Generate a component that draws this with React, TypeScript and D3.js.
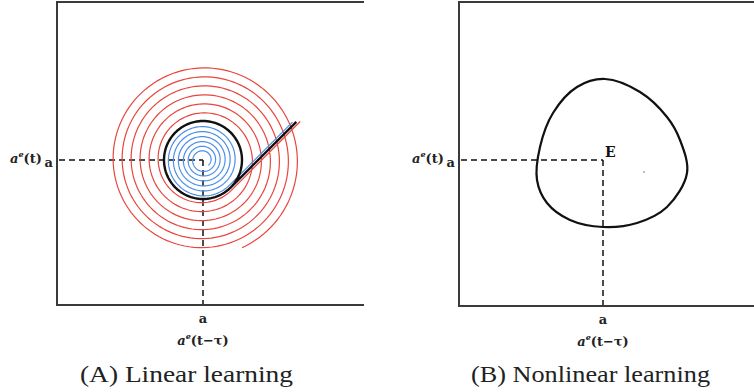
import React from 'react';
import * as d3 from 'd3';

const W = 754;
const H = 392;

// phase-space data, equilibrium "a" at (0, 0); unit = limit cycle scale
const limitCycleR = 0.39;
const tangentDeg = -45; // where the lead-in line meets the cycle
const blackLead = 0.93;

// Linear learning: unstable (red) spiral outward, stable (blue) spiral inward
const redTurnRadii = [0.415, 0.505, 0.595, 0.685, 0.775, 0.865, 0.955];
const redLastTurn = 6.06;
const redLead = 0.96;

const blueTurnRadii = [0.365, 0.315, 0.265, 0.215, 0.165, 0.12, 0.075];
const blueLastTurn = 6;
const blueLead = 0.9;

// Nonlinear learning: closed orbit around E
const orbitX = [0.02, 0.37, 0.64, 0.77, 0.84, 0.64, 0.34, 0, -0.33, -0.56, -0.66, -0.63, -0.5, -0.26];
const orbitY = [0.81, 0.68, 0.43, 0.2, -0.13, -0.47, -0.63, -0.67, -0.6, -0.43, -0.2, 0.13, 0.47, 0.73];
const strayDot = [0.41, -0.12];

const panels = [
  { key: 'A', left: 57, right: 364, top: 2, bottom: 305, xDomain: [-1.46, 1.61], yDomain: [-1.45, 1.58], caption: '(A) Linear learning', capX: 80 },
  { key: 'B', left: 459, right: 754, top: 2, bottom: 306, xDomain: [-1.44, 1.51], yDomain: [-1.46, 1.58], caption: '(B) Nonlinear learning', capX: 471 },
];

const RED = '#e8453c';
const BLUE = '#4b8fe6';
const serif = '"DejaVu Serif", serif';

type P = [number, number];

function spiral(radii: number[], lastTurn: number, lead: number): P[] {
  const rOf = d3.scaleLinear().domain(radii.map((_, i) => i)).range(radii).clamp(false);
  const a0 = (tangentDeg * Math.PI) / 180;
  const r0 = radii[0];
  const start: P = [r0 * Math.cos(a0), r0 * Math.sin(a0)];
  const leadPt: P = [start[0] - lead * Math.sin(a0), start[1] + lead * Math.cos(a0)];
  const pts: P[] = [leadPt];
  d3.range(0, lastTurn + 1e-9, 1 / 120).forEach(t => {
    const r = rOf(t);
    const a = a0 - 2 * Math.PI * t;
    pts.push([r * Math.cos(a), r * Math.sin(a)]);
  });
  return pts;
}

const AxisLabel = ({ x, y, tail, anchor }: { x: number; y: number; tail: string; anchor: string }) => (
  <text x={x} y={y} textAnchor={anchor} fontFamily={serif} fontWeight="bold" fontSize={13} fill="#222">
    <tspan fontStyle="italic">a</tspan>
    <tspan fontStyle="italic" fontSize={8} dy={-6}>e</tspan>
    <tspan dy={6}>{tail}</tspan>
  </text>
);

const Panel = ({ p }: { p: typeof panels[number] }) => {
  const x = d3.scaleLinear().domain(p.xDomain).range([p.left, p.right]);
  const y = d3.scaleLinear().domain(p.yDomain).range([p.bottom, p.top]);
  const line = d3.line<P>().x(d => x(d[0])).y(d => y(d[1]));
  const ex = x(0);
  const ey = y(0);

  const frame = `M${p.right},${p.top}H${p.left}V${p.bottom}H${p.right}`;

  let marks: React.ReactNode = null;
  if (p.key === 'A') {
    const cycle = spiral([limitCycleR, limitCycleR], 1.01, blackLead);
    marks = (
      <g fill="none">
        <path d={line(spiral(redTurnRadii, redLastTurn, redLead)) || ''} stroke={RED} strokeWidth={1.2} />
        <path d={line(spiral(blueTurnRadii, blueLastTurn, blueLead)) || ''} stroke={BLUE} strokeWidth={1.2} />
        <path d={line(cycle) || ''} stroke="#111" strokeWidth={2.4} strokeLinejoin="round" />
      </g>
    );
  } else {
    const orbit: P[] = orbitX.map((v, i) => [v, orbitY[i]]);
    const closed = d3.line<P>().x(d => x(d[0])).y(d => y(d[1])).curve(d3.curveCatmullRomClosed.alpha(0.5));
    marks = (
      <g>
        <path d={closed(orbit) || ''} fill="none" stroke="#111" strokeWidth={2.2} />
        <circle cx={x(strayDot[0])} cy={y(strayDot[1])} r={1} fill="#aaa" />
        <text x={ex + 2} y={ey - 3} fontFamily={serif} fontWeight="bold" fontSize={14} fill="#111">E</text>
      </g>
    );
  }

  return (
    <g>
      <path d={frame} fill="none" stroke="#3a3a3a" strokeWidth={2} />
      <g stroke="#111" strokeWidth={1.5} strokeDasharray="6,4" fill="none">
        <line x1={p.left + 2} y1={ey} x2={ex} y2={ey} />
        <line x1={ex} y1={ey} x2={ex} y2={p.bottom - 1} />
      </g>
      {marks}
      <text x={p.left - 4} y={ey + 7} textAnchor="end" fontFamily={serif} fontWeight="bold" fontSize={13} fill="#222">a</text>
      <text x={ex} y={p.bottom + 18} textAnchor="middle" fontFamily={serif} fontWeight="bold" fontSize={13} fill="#222">a</text>
      <AxisLabel x={p.left - 47} y={ey + 3} tail="(t)" anchor="start" />
      <AxisLabel x={ex} y={p.bottom + 40} tail="(t−τ)" anchor="middle" />
      <text x={p.capX} y={382} fontFamily='"Liberation Serif", serif' fontSize={23} fill="#222"
        textLength={p.key === 'A' ? 213 : 239} lengthAdjust="spacingAndGlyphs">{p.caption}</text>
    </g>
  );
};

export default function App() {
  return (
    <svg width={W} height={H} style={{ position: 'absolute', left: 0, top: 0, background: '#fff' }}>
      {panels.map(p => <Panel key={p.key} p={p} />)}
    </svg>
  );
}
